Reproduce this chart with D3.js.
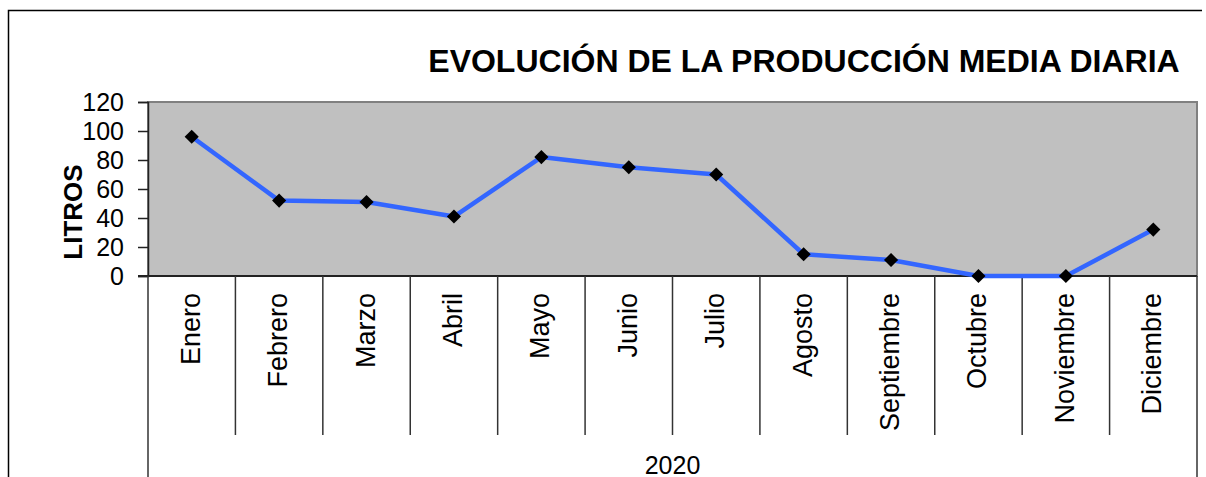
<!DOCTYPE html>
<html>
<head>
<meta charset="utf-8">
<script src="https://cdn.jsdelivr.net/npm/d3@7"></script>
<style>
  body { margin: 0; background: #fff; }
  text { font-family: "Liberation Sans", Arial, sans-serif; }
</style>
</head>
<body>
<script>
const months = ['Enero','Febrero','Marzo','Abril','Mayo','Junio','Julio','Agosto','Septiembre','Octubre','Noviembre','Diciembre'];
const litros = [96, 52, 51, 41, 82, 75, 70, 15, 11, 0, 0, 32];
const yTicks = [0, 20, 40, 60, 80, 100, 120];
const yearLabel = '2020';

var W = 1206, H = 477;
var plot = {left: 148, right: 1197, top: 102, bottom: 276};

var svg = d3.select("body")
    .append("svg")
    .attr("width", W)
    .attr("height", H);

// chart outer border (top and left edges are what shows)
svg.append("path")
    .attr("d", "M8.5," + (H + 5) + "V10.5H1202")
    .attr("fill", "none")
    .attr("stroke", "#000")
    .attr("stroke-width", 1.5);

var x = d3.scaleBand()
    .domain(months)
    .range([plot.left, plot.right]);

var y = d3.scaleLinear()
    .domain([0, d3.max(yTicks)])
    .range([plot.bottom, plot.top]);

// plot area
svg.append("rect")
    .attr("x", plot.left).attr("y", plot.top)
    .attr("width", plot.right - plot.left)
    .attr("height", plot.bottom - plot.top)
    .attr("fill", "#c0c0c0")
    .attr("stroke", "#808080")
    .attr("stroke-width", 2);

// y axis
var yAxis = svg.append("g")
    .attr("transform", "translate(" + plot.left + ",0)")
    .call(d3.axisLeft(y).tickValues(yTicks).tickSize(10).tickPadding(14));
yAxis.select(".domain").attr("stroke", "#222").attr("stroke-width", 1.5);
yAxis.selectAll(".tick line").attr("stroke", "#222").attr("stroke-width", 1.5);
yAxis.selectAll(".tick text")
    .attr("fill", "#000")
    .style("font-size", "25px");

// x axis line
svg.append("line")
    .attr("x1", plot.left - 10).attr("x2", plot.right)
    .attr("y1", plot.bottom).attr("y2", plot.bottom)
    .attr("stroke", "#222").attr("stroke-width", 2);

// category dividers
var bounds = months.map(function(m) { return x(m); }).concat([plot.right]);
svg.selectAll("line.div")
    .data(bounds)
    .enter()
    .append("line")
    .attr("class", "div")
    .attr("x1", function(d) { return d; })
    .attr("x2", function(d) { return d; })
    .attr("y1", plot.bottom)
    .attr("y2", function(d, i) { return (i == 0 || i == bounds.length - 1) ? H + 5 : 435; })
    .attr("stroke", "#333")
    .attr("stroke-width", 1.5);

// month labels
svg.selectAll("text.month")
    .data(months)
    .enter()
    .append("text")
    .attr("class", "month")
    .attr("transform", function(d) {
        return "translate(" + (x(d) + x.bandwidth() / 2 + 8) + ",293) rotate(-90)";
    })
    .attr("text-anchor", "end")
    .style("font-size", "27px")
    .text(function(d) { return d; });

// year label
svg.append("text")
    .attr("x", (plot.left + plot.right) / 2)
    .attr("y", 474)
    .attr("text-anchor", "middle")
    .style("font-size", "25px")
    .text(yearLabel);

// line
var line = d3.line()
    .x(function(d, i) { return x(months[i]) + x.bandwidth() / 2; })
    .y(function(d) { return y(d); });

svg.append("path")
    .datum(litros)
    .attr("d", line)
    .attr("fill", "none")
    .attr("stroke", "#3366ff")
    .attr("stroke-width", 4.5)
    .attr("stroke-linejoin", "round");

// markers
svg.selectAll("path.marker")
    .data(litros)
    .enter()
    .append("path")
    .attr("class", "marker")
    .attr("d", d3.symbol(d3.symbolSquare, 100))
    .attr("transform", function(d, i) {
        return "translate(" + (x(months[i]) + x.bandwidth() / 2) + "," + y(d) + ") rotate(45)";
    })
    .attr("fill", "#000");

// axis title
svg.append("text")
    .attr("transform", "translate(82,212) rotate(-90)")
    .attr("text-anchor", "middle")
    .style("font-size", "26px")
    .style("font-weight", "bold")
    .text("LITROS");

// chart title
svg.append("text")
    .attr("x", 804)
    .attr("y", 72)
    .attr("text-anchor", "middle")
    .style("font-size", "32px")
    .style("font-weight", "bold")
    .text("EVOLUCIÓN DE LA PRODUCCIÓN MEDIA DIARIA");
</script>
</body>
</html>
